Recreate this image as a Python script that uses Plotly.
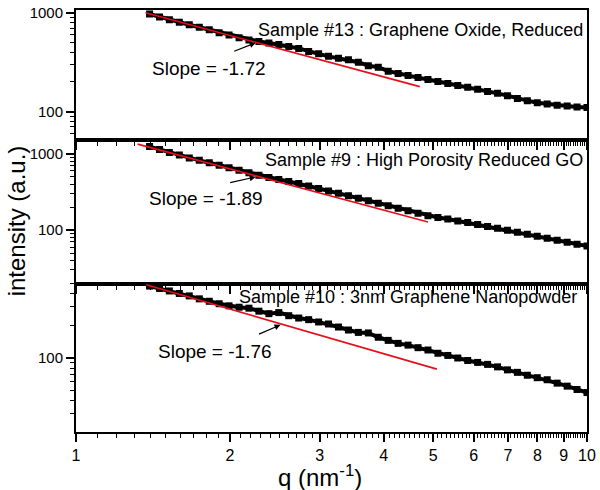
import plotly.graph_objects as go
from plotly.subplots import make_subplots

# scattering vector q (nm^-1), shared by the three samples
q = [1.393, 1.457, 1.523, 1.593, 1.666, 1.743, 1.823, 1.906, 1.993, 2.085,
     2.180, 2.280, 2.385, 2.494, 2.608, 2.728, 2.853, 2.984, 3.120, 3.263,
     3.413, 3.569, 3.733, 3.904, 4.083, 4.270, 4.465, 4.670, 4.884, 5.108,
     5.341, 5.586, 5.842, 6.109, 6.389, 6.682, 6.988, 7.308, 7.642, 7.992,
     8.358, 8.741, 9.145, 9.561, 10.0]

# intensity (a.u.) per sample
intensity_13 = [977, 912, 851, 804, 759, 716, 676, 631, 596, 562,
                531, 513, 495, 479, 457, 437, 407, 385, 363, 347,
                335, 316, 292, 282, 257, 243, 232, 221, 211, 202,
                193, 184, 176, 168, 160, 153, 145, 136, 129, 123,
                119, 116, 114, 111, 110]
intensity_9 = [1250, 1143, 1045, 970, 887, 824, 765, 710, 659, 612,
               568, 527, 490, 461, 435, 409, 380, 352, 327, 304,
               282, 262, 243, 226, 209, 194, 180, 167, 155, 146.5,
               140, 132, 126, 119, 112, 105.5, 99.4, 93.7, 88.3, 83.2,
               78.3, 73.8, 69.5, 65.5, 61.7]
intensity_10 = [464, 441, 418, 396, 376, 353, 335, 318, 304, 295,
                289, 271, 257, 263, 246, 234, 226, 215, 206, 193,
                181, 172, 170, 155, 145, 136, 131, 124, 118, 110,
                105, 99.4, 94.2, 90.4, 86.7, 82.2, 77.1, 73.1, 68.7, 65.2,
                62.4, 58.0, 54.4, 50.6, 47.4]

# power-law fit lines (end points)
fit_13_q = [1.368, 4.706]
fit_13_I = [1007, 179]
fit_9_q = [1.320, 4.884]
fit_9_I = [1346, 128]
fit_10_q = [1.373, 5.084]
fit_10_I = [477, 78.3]

sample_labels = ["Sample #13 : Graphene Oxide, Reduced",
                 "Sample #9 : High Porosity Reduced GO",
                 "Sample #10 : 3nm Graphene Nanopowder"]
slope_labels = ["Slope = -1.72", "Slope = -1.89", "Slope = -1.76"]

x_ticks = [1, 2, 3, 4, 5, 6, 7, 8, 9, 10]
x_tick_text = ["1", "2", "3", "4", "5", "6", "7", "8", "9", "10"]
x_minor = [round(1 + 0.1 * i, 1) for i in range(1, 90) if i % 10]
y_ticks = [100, 1000]
y_tick_text = ["100", "1000"]
y_minor = [20, 30, 40, 50, 60, 70, 80, 90, 200, 300, 400, 500, 600, 700, 800, 900]

FONT = "Liberation Sans, Arial, sans-serif"

fig = make_subplots(rows=3, cols=1, shared_xaxes=True, vertical_spacing=0)

panels = [
    (intensity_13, fit_13_q, fit_13_I),
    (intensity_9, fit_9_q, fit_9_I),
    (intensity_10, fit_10_q, fit_10_I),
]
for row, (vals, fq, fi) in enumerate(panels, start=1):
    fig.add_trace(go.Scatter(x=q, y=vals, mode="lines+markers",
                             line=dict(color="black", width=4),
                             marker=dict(symbol="square", size=7, color="black"),
                             showlegend=False), row=row, col=1)
    fig.add_trace(go.Scatter(x=fq, y=fi, mode="lines",
                             line=dict(color="#e3101b", width=1.6),
                             showlegend=False), row=row, col=1)

domains = [[0.6916, 1.0], [0.3505, 0.6916], [0.0, 0.3505]]
y_ranges = [[1.71, 3.03], [1.292, 3.181], [1.309, 2.685]]

axis_style = dict(showline=True, linecolor="black", linewidth=2, mirror=True,
                  ticks="outside", tickcolor="black", tickwidth=1.5, ticklen=8,
                  showgrid=False, zeroline=False)

for row in range(1, 4):
    fig.update_yaxes(type="log", range=y_ranges[row - 1], domain=domains[row - 1],
                     tickmode="array", tickvals=y_ticks, ticktext=y_tick_text,
                     tickfont=dict(size=15, color="black", family=FONT),
                     minor=dict(tickmode="array", tickvals=y_minor, ticks="outside",
                                ticklen=4, tickcolor="black", tickwidth=1.2),
                     **axis_style, row=row, col=1)
    fig.update_xaxes(type="log", range=[0, 1],
                     tickmode="array", tickvals=x_ticks, ticktext=x_tick_text,
                     showticklabels=(row == 3),
                     tickfont=dict(size=16, color="black", family=FONT),
                     minor=dict(tickmode="array", tickvals=x_minor, ticks="outside",
                                ticklen=4, tickcolor="black", tickwidth=1.2),
                     **axis_style, row=row, col=1)

# label positions (paper coords)
sample_pos = [(0.997, 0.952), (0.997, 0.6437), (0.984, 0.3189)]
slope_pos = [(0.2607, 0.862), (0.2549, 0.5526), (0.2724, 0.1916)]
arrow_pos = [(0.3516, 0.9222, -23, 9), (0.3516, 0.6044, -27, 6), (0.4002, 0.2540, -23, 10)]

for i in range(3):
    sx, sy = sample_pos[i]
    fig.add_annotation(x=sx, y=sy, xref="paper", yref="paper", text=sample_labels[i],
                       showarrow=False, xanchor="right", yanchor="middle",
                       font=dict(size=18, color="black", family=FONT))
    lx, ly = slope_pos[i]
    fig.add_annotation(x=lx, y=ly, xref="paper", yref="paper", text=slope_labels[i],
                       showarrow=False, xanchor="center", yanchor="middle",
                       font=dict(size=19, color="black", family=FONT))
    hx, hy, ax, ay = arrow_pos[i]
    fig.add_annotation(x=hx, y=hy, xref="paper", yref="paper", text="",
                       showarrow=True, ax=ax, ay=ay, arrowhead=2, arrowsize=1,
                       arrowwidth=1.2, arrowcolor="black", standoff=0)

# axis titles
fig.add_annotation(x=-0.1167, y=0.5, xref="paper", yref="paper", text="intensity (a.u.)",
                   showarrow=False, textangle=-90, xanchor="center", yanchor="middle",
                   font=dict(size=24, color="black", family=FONT))
fig.add_annotation(x=0.478, y=-0.105, xref="paper", yref="paper", text="q (nm<sup>-1</sup>)",
                   showarrow=False, xanchor="center", yanchor="middle",
                   font=dict(size=24, color="black", family=FONT))

fig.update_layout(width=600, height=490,
                  margin=dict(l=76, r=10, t=4, b=58),
                  paper_bgcolor="white", plot_bgcolor="white",
                  font=dict(family=FONT, color="black"))

# page body has a default 8px margin; remove it so the figure sits at 0,0
fig.write_html("out.html", config={"displayModeBar": False},
               post_script="document.body.style.margin='0';")
